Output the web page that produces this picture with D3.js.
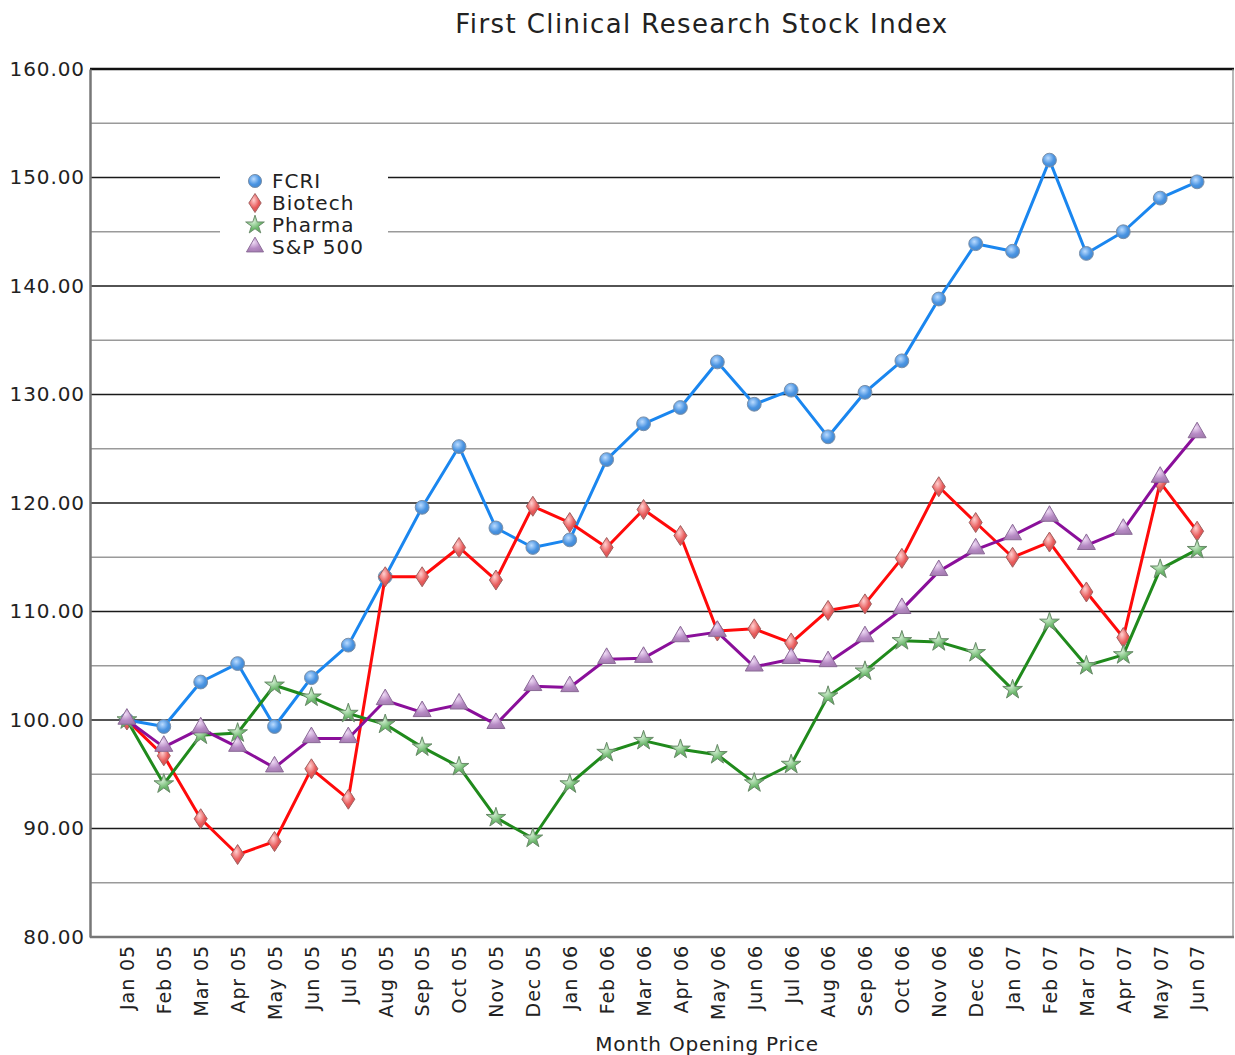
<!DOCTYPE html>
<html>
<head>
<meta charset="utf-8">
<script src="https://cdn.jsdelivr.net/npm/d3@7"></script>
<style>
  body { margin: 0; background: #fff; }
  text { font-family: "DejaVu Sans", Verdana, sans-serif; fill: #222; }
</style>
</head>
<body>
<div id="chart-area"></div>
<script>
// data
var months = ["Jan 05","Feb 05","Mar 05","Apr 05","May 05","Jun 05","Jul 05","Aug 05","Sep 05","Oct 05",
  "Nov 05","Dec 05","Jan 06","Feb 06","Mar 06","Apr 06","May 06","Jun 06","Jul 06","Aug 06",
  "Sep 06","Oct 06","Nov 06","Dec 06","Jan 07","Feb 07","Mar 07","Apr 07","May 07","Jun 07"];

var fcri = [100, 99.4, 103.5, 105.2, 99.4, 103.9, 106.9, 113.2, 119.6, 125.2,
  117.7, 115.9, 116.6, 124.0, 127.3, 128.8, 133.0, 129.1, 130.4, 126.1,
  130.2, 133.1, 138.8, 143.9, 143.2, 151.6, 143.0, 145.0, 148.1, 149.6];
var biotech = [100, 96.7, 90.9, 87.6, 88.8, 95.5, 92.7, 113.2, 113.2, 115.9,
  112.9, 119.7, 118.2, 115.9, 119.4, 117.0, 108.2, 108.4, 107.1, 110.1,
  110.7, 114.9, 121.5, 118.2, 115.0, 116.4, 111.8, 107.6, 121.9, 117.4];
var pharma = [100, 94.1, 98.6, 98.8, 103.2, 102.1, 100.6, 99.6, 97.5, 95.7,
  91.0, 89.1, 94.1, 97.0, 98.1, 97.3, 96.8, 94.2, 95.9, 102.2,
  104.5, 107.3, 107.2, 106.2, 102.8, 109.0, 105.0, 106.0, 113.9, 115.7];
var sp500 = [100, 97.5, 99.2, 97.5, 95.6, 98.3, 98.3, 101.8, 100.7, 101.4,
  99.6, 103.1, 103.0, 105.6, 105.7, 107.6, 108.1, 104.9, 105.6, 105.3,
  107.6, 110.2, 113.7, 115.7, 117.0, 118.7, 116.1, 117.5, 122.3, 126.4];

var seriesNames = ["FCRI", "Biotech", "Pharma", "S&P 500"];
var yTicks = [80, 90, 100, 110, 120, 130, 140, 150, 160];

var series = [
  {name: seriesNames[0], values: fcri, line: "#1a86ef", fill: "#4a94e2", light: "#bcdcff", stroke: "#7a8fa8", shape: "circle"},
  {name: seriesNames[1], values: biotech, line: "#ff0a0a", fill: "#e85a5a", light: "#ffd0d0", stroke: "#a06060", shape: "diamond"},
  {name: seriesNames[2], values: pharma, line: "#208a1c", fill: "#6cb86c", light: "#d6f0d6", stroke: "#6a8a6a", shape: "star"},
  {name: seriesNames[3], values: sp500, line: "#8a0f9a", fill: "#b68ac4", light: "#f0dcf6", stroke: "#8a6a96", shape: "triangle"}
];

var width = 1235, height = 1055;
var plotLeft = 90, plotRight = 1234, plotTop = 69, plotBottom = 937;

var svg = d3.select("#chart-area").append("svg")
  .attr("width", width)
  .attr("height", height);

var defs = svg.append("defs");
series.forEach(function(s, i) {
  var g = defs.append("radialGradient")
    .attr("id", "grad" + i)
    .attr("cx", "40%").attr("cy", "35%").attr("r", "70%");
  g.append("stop").attr("offset", "0%").attr("stop-color", s.light);
  g.append("stop").attr("offset", "60%").attr("stop-color", s.fill);
  g.append("stop").attr("offset", "100%").attr("stop-color", d3.color(s.fill).darker(0.3));
});

var x = d3.scalePoint()
  .domain(months)
  .range([plotLeft, plotRight])
  .padding(1);

var y = d3.scaleLinear()
  .domain([80, 160])
  .range([plotBottom, plotTop]);

// grid
var minor = d3.range(85, 160, 10);
svg.append("g").selectAll("line").data(minor).enter().append("line")
  .attr("x1", plotLeft).attr("x2", plotRight)
  .attr("y1", function(d){ return y(d); }).attr("y2", function(d){ return y(d); })
  .attr("stroke", "#9a9a9a").attr("stroke-width", 1.3);
svg.append("g").selectAll("line").data(yTicks.slice(1, -1)).enter().append("line")
  .attr("x1", plotLeft).attr("x2", plotRight)
  .attr("y1", function(d){ return y(d); }).attr("y2", function(d){ return y(d); })
  .attr("stroke", "#1a1a1a").attr("stroke-width", 1.4);

// frame
svg.append("line").attr("x1", plotLeft).attr("x2", plotRight).attr("y1", plotTop).attr("y2", plotTop)
  .attr("stroke", "#111").attr("stroke-width", 2.5);
svg.append("line").attr("x1", plotRight - 1).attr("x2", plotRight - 1).attr("y1", plotTop).attr("y2", plotBottom)
  .attr("stroke", "#888").attr("stroke-width", 1.2);

// y axis
var yAxis = svg.append("g")
  .attr("transform", "translate(" + plotLeft + ",0)")
  .call(d3.axisLeft(y).tickValues(yTicks).tickSize(0).tickPadding(5)
    .tickFormat(function(d){ return d3.format(".2f")(d); }));
yAxis.select(".domain").attr("stroke", "#777").attr("stroke-width", 2.5);
yAxis.selectAll("text")
  .attr("font-size", "20px")
  .attr("letter-spacing", "0.9px")
  .attr("font-family", "DejaVu Sans, Verdana, sans-serif")
  .attr("fill", "#222");

// x axis
var xAxis = svg.append("g")
  .attr("transform", "translate(0," + plotBottom + ")")
  .call(d3.axisBottom(x).tickSize(0).tickSizeOuter(0));
xAxis.select(".domain").attr("stroke", "#777").attr("stroke-width", 2.5)
  .attr("d", "M" + plotLeft + ",0H" + plotRight);
xAxis.selectAll("text")
  .attr("font-size", "19px")
  .attr("letter-spacing", "0.9px")
  .attr("font-family", "DejaVu Sans, Verdana, sans-serif")
  .attr("fill", "#222")
  .attr("text-anchor", "end")
  .attr("transform", "rotate(-90)")
  .attr("x", -8)
  .attr("y", 0)
  .attr("dy", "0.36em");

// titles
svg.append("text")
  .attr("x", 702).attr("y", 33)
  .attr("text-anchor", "middle")
  .attr("font-size", "26px")
  .attr("letter-spacing", "1.4px")
  .text("First Clinical Research Stock Index");

svg.append("text")
  .attr("x", 707).attr("y", 1051)
  .attr("text-anchor", "middle")
  .attr("font-size", "20px")
  .attr("letter-spacing", "0.8px")
  .text("Month Opening Price");

function markerPath(shape) {
  if (shape === "circle") return d3.symbol().type(d3.symbolCircle).size(150)();
  if (shape === "star") return d3.symbol().type(d3.symbolStar).size(120)();
  if (shape === "triangle") return d3.symbol().type(d3.symbolTriangle).size(140)();
  return "M0,-10L6.5,0L0,10L-6.5,0Z";
}

var line = d3.line()
  .x(function(d, i){ return x(months[i]); })
  .y(function(d){ return y(d); });

series.forEach(function(s, i) {
  var g = svg.append("g");
  g.append("path")
    .datum(s.values)
    .attr("d", line)
    .attr("fill", "none")
    .attr("stroke", s.line)
    .attr("stroke-width", 3)
    .attr("stroke-linejoin", "round");
  g.selectAll(".m").data(s.values).enter().append("path")
    .attr("transform", function(d, j){
      var dy = s.shape === "triangle" ? -1 : 0;
      return "translate(" + x(months[j]) + "," + (y(d) + dy) + ")";
    })
    .attr("d", markerPath(s.shape))
    .attr("fill", "url(#grad" + i + ")")
    .attr("stroke", s.stroke)
    .attr("stroke-width", 1);
});

// legend
var legend = svg.append("g");
legend.append("rect")
  .attr("x", 220).attr("y", 166).attr("width", 168).attr("height", 94)
  .attr("fill", "#fff");
series.forEach(function(s, i) {
  var ly = 181 + i * 22;
  legend.append("path")
    .attr("transform", "translate(255," + ly + ") scale(0.95)")
    .attr("d", markerPath(s.shape))
    .attr("fill", "url(#grad" + i + ")")
    .attr("stroke", s.stroke)
    .attr("stroke-width", 1);
  legend.append("text")
    .attr("x", 272).attr("y", ly)
    .attr("dy", "0.36em")
    .attr("font-size", "20px")
    .attr("letter-spacing", "1px")
    .text(s.name);
});
</script>
</body>
</html>
